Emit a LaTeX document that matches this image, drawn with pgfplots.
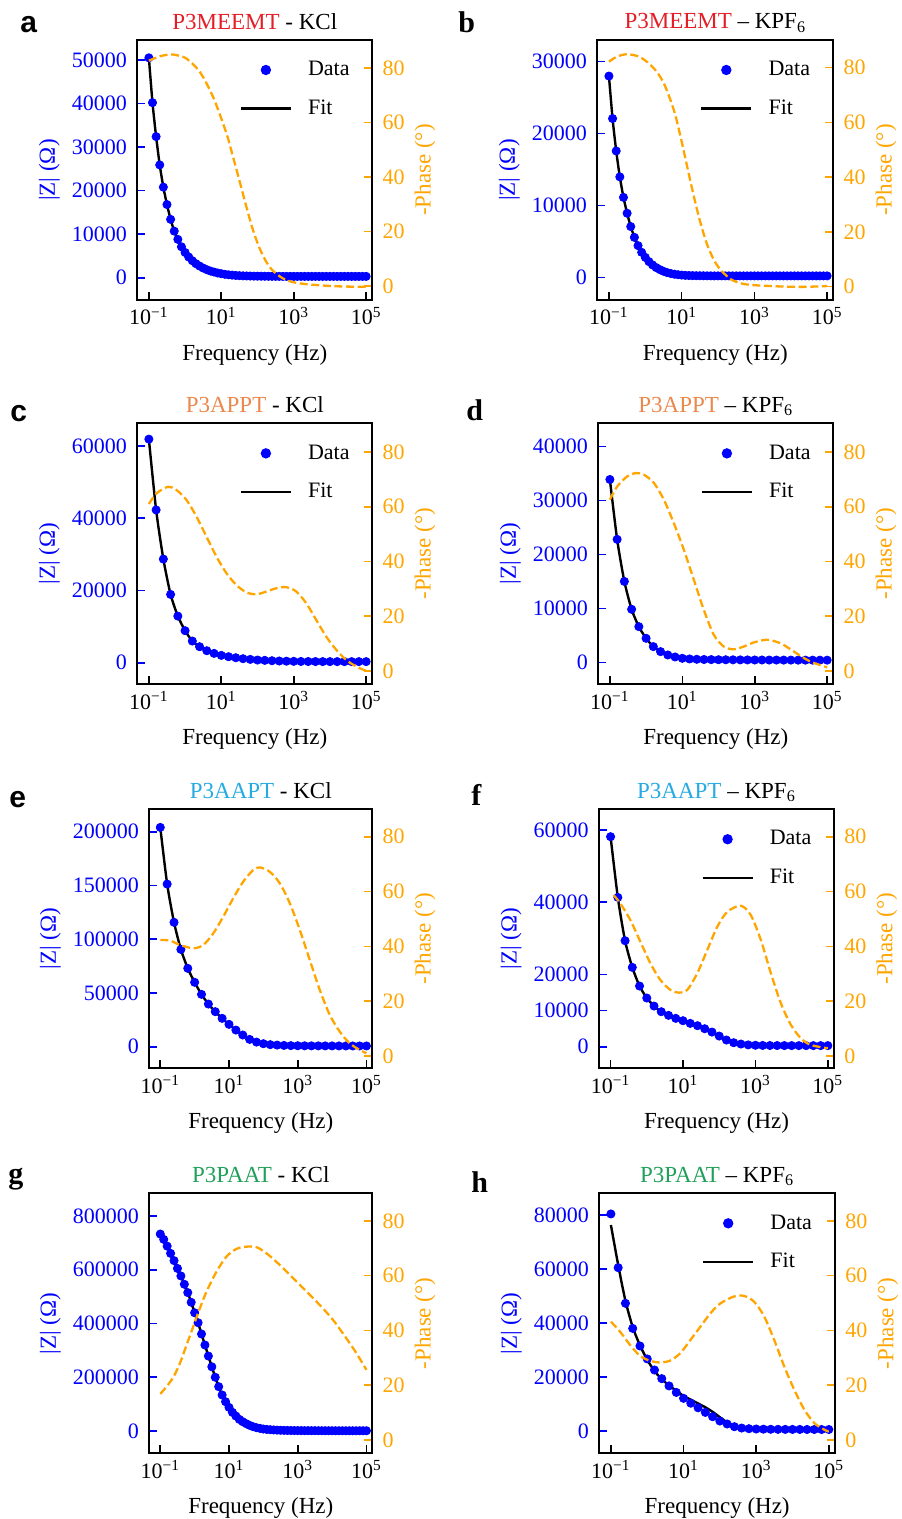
\documentclass[border=0pt]{standalone}
\usepackage{fontspec}
\setmainfont{Liberation Serif}
\newfontfamily\lsans{Liberation Sans}
\usepackage{pgfplots}
\usepackage{pgfplotstable}
\pgfplotsset{compat=1.18}
\definecolor{zblue}{RGB}{0,0,255}
\definecolor{phor}{RGB}{255,165,0}
\definecolor{cred}{RGB}{228,30,38}
\definecolor{corg}{RGB}{233,137,78}
\definecolor{ccyan}{RGB}{38,170,225}
\definecolor{cgrn}{RGB}{32,160,90}
\tikzset{letter/.style={anchor=base west, inner sep=0pt, font=\fontsize{15}{18}\selectfont\bfseries}}
\pgfplotsset{
  eisbase/.style={scale only axis, anchor=south west,
    xmin=0.0479, xmax=148000, tick align=inside, major tick length=4pt,
    xminorticks=false, yminorticks=false,
    tick label style={font=\fontsize{11}{13}\selectfont},
    label style={font=\fontsize{11.5}{13}\selectfont},
    scaled y ticks=false,
    yticklabel style={/pgf/number format/fixed, /pgf/number format/1000 sep={}, /pgf/number format/assume math mode=true, inner sep=0pt},
  },
  zax/.style={eisbase,
    axis line style={line width=1pt, black},
    xtick={0.1,10,1000,100000},
    xticklabels={10\textsuperscript{−1},10\textsuperscript{1},10\textsuperscript{3},10\textsuperscript{5}},
    xtick pos=left, ytick pos=left,
    xtick style={black, line width=0.8pt},
    ytick style={zblue, line width=0.8pt},
    xticklabel style={anchor=base, yshift=-12.5pt},
    yticklabel style={text=zblue, xshift=-5pt},
    xlabel={Frequency (Hz)},
    every axis x label/.style={at={(axis description cs:0.5,0)}, anchor=base, yshift=-30pt, font=\fontsize{11.5}{13}\selectfont},
    ylabel={|Z| (Ω)},
    ylabel style={text=zblue, at={(ticklabel cs:0.5,2.5pt)}},
    every axis title/.style={at={(axis description cs:0.5,1)}, anchor=base, yshift=5.5pt, font=\fontsize{11.5}{13}\selectfont},
    legend cell align=left,
    legend style={at={(0.434,0.935)}, anchor=north west, draw=none, fill=none, inner sep=0pt, font=\fontsize{11}{13}\selectfont, row sep=6.5pt,
      /tikz/every odd column/.append style={column sep=6pt}},
  },
  pax/.style={eisbase,
    axis x line=none, axis y line*=right,
    axis line style={line width=1pt, black},
    ytick={0,20,40,60,80},
    ytick style={phor, line width=0.8pt},
    yticklabel style={text=phor, xshift=5pt},
    ylabel={-Phase (°)},
    ylabel style={text=phor, at={(ticklabel cs:0.5,1.5pt)}},
  },
  datap/.style={only marks, mark=*, mark size=2.05pt, color=zblue, mark options={fill=zblue, draw=zblue},
     legend image code/.code={\path[draw=none, fill=none] (0pt,0pt) -- (25pt,0pt); \fill[zblue, draw=none] (12.5pt,0pt) circle (2.6pt);}},
  fitp/.style={black, line width=1.2pt, no marks, smooth, tension=0.4,
     legend image code/.code={\draw[black, line width=1.2pt] (0pt,0pt) -- (25pt,0pt);}},
  php/.style={color=phor, line width=1.15pt, dash pattern=on 4pt off 1.8pt, smooth, no marks},
}
\begin{document}
% ---------------- data tables ----------------
\pgfplotstableread{
f z
0.1 50500
0.1259 40200
0.1585 32400
0.1995 25900
0.2512 20800
0.3162 16800
0.3981 13400
0.5012 10700
0.631 8800
0.7943 7100
1 5800
1.259 4750
1.585 3900
1.995 3220
2.512 2680
3.162 2220
3.981 1840
5.012 1530
6.31 1300
7.943 1080
10 920
12.59 780
15.85 670
19.95 590
25.12 520
31.62 470
39.81 430
50.12 400
63.1 380
79.43 360
100 350
125.9 340
158.5 330
199.5 320
251.2 315
316.2 310
398.1 305
501.2 300
631 300
794.3 300
1000 300
1259 300
1585 300
1995 300
2512 300
3162 300
3981 300
5012 300
6310 300
7943 300
10000 300
12590 300
15850 300
19950 300
25120 300
31620 300
39810 300
50120 300
63100 300
79430 300
100000 300
}\tabA
\pgfplotstableread{
f p
0.1 82.6
0.2 84.2
0.379 84.9
0.6 84.6
1.09 83.4
2.55 78.5
5.94 69.3
13.9 55.9
21.1 47.3
32.3 38.2
49.3 29.0
75.3 20.4
115 13.7
175 8.8
268 5.5
506 2.7
955 1.35
2225 0.6
5190 0.2
12100 -0.1
34800 -0.3
100000 -0.3
}\phA
\pgfplotstableread{
f z
0.1 28000
0.1259 22100
0.1585 17600
0.1995 14000
0.2512 11150
0.3162 8950
0.3981 7100
0.5012 5600
0.631 4450
0.7943 3520
1 2820
1.259 2230
1.585 1770
1.995 1400
2.512 1120
3.162 890
3.981 710
5.012 580
6.31 480
7.943 410
10 360
12.59 320
15.85 300
19.95 285
25.12 275
31.62 270
39.81 265
50.12 260
63.1 255
79.43 250
100 250
125.9 250
158.5 250
199.5 250
251.2 250
316.2 250
398.1 250
501.2 250
631 250
794.3 250
1000 250
1259 250
1585 250
1995 250
2512 250
3162 250
3981 250
5012 250
6310 250
7943 250
10000 250
12590 250
15850 250
19950 250
25120 250
31620 250
39810 250
50120 250
63100 250
79430 250
100000 250
}\tabB
\pgfplotstableread{
f p
0.1 82.2
0.166 84.0
0.314 84.9
0.733 83.8
1.71 79.8
3.23 74.3
6.10 64.5
9.31 54.8
14.2 43.8
21.7 32.9
33.2 23.1
50.7 15.2
77.4 9.7
118 6.1
223 2.7
422 1.2
796 0.6
2296 0.25
6620 0
23600 -0.1
100000 0.2
}\phB
\pgfplotstableread{
f z
0.1 61900
0.1585 42300
0.2512 28700
0.3981 18900
0.631 12900
1 8860
1.585 6000
2.512 4430
3.981 3320
6.31 2580
10 2030
15.85 1660
25.12 1380
39.81 1110
63.1 920
100 740
158.5 650
251.2 550
398.1 470
631 420
1000 380
1585 350
2512 330
3981 320
6310 310
10000 300
15850 300
25120 300
39810 300
63100 300
100000 300
}\tabC
\pgfplotstableread{
f p
0.1 61.0
0.163 64.9
0.341 67.3
0.579 66.1
1.09 62.5
2.06 56.4
3.89 49.1
7.34 41.8
13.9 35.7
26.1 31.4
49.3 28.7
93.1 28.0
175 29.0
331 30.2
625 30.6
1180 29.0
2225 24.7
4200 18.6
7930 12.5
15000 7.7
28200 4.0
53200 1.6
100000 0
}\phC
\pgfplotstableread{
f z
0.1 33900
0.1585 22800
0.2512 15000
0.3981 9830
0.631 6610
1 4450
1.585 2910
2.512 1980
3.981 1360
6.31 990
10 740
15.85 620
25.12 560
39.81 520
63.1 500
100 480
158.5 470
251.2 460
398.1 450
631 440
1000 430
1585 430
2512 420
3981 420
6310 410
10000 410
15850 400
25120 400
39810 400
63100 400
100000 400
}\tabD
\pgfplotstableread{
f p
0.1 62.6
0.159 67.4
0.301 71.1
0.511 72.3
0.867 71.7
1.64 68.7
3.09 62.6
5.83 54.0
11.0 44.3
20.8 33.3
39.3 22.3
74.1 13.2
140 8.9
264 7.9
499 8.9
942 10.4
2200 11.4
5130 10.1
9680 7.9
18300 5.5
34500 3.4
65200 2.1
100000 1.3
}\phD
\pgfplotstableread{
f z
0.1 204000
0.1585 151300
0.2512 115700
0.3981 90500
0.631 72900
1 59900
1.585 48700
2.512 39700
3.981 32600
6.31 26400
10 20800
15.85 15500
25.12 10900
39.81 6800
63.1 4300
100 2800
158.5 1900
251.2 1500
398.1 1200
631 1000
1000 900
1585 850
2512 800
3981 780
6310 760
10000 740
15850 720
25120 700
39810 700
63100 700
100000 700
}\tabE
\pgfplotstableread{
f p
0.1 42.3
0.191 42.1
0.373 40.5
0.910 39.3
1.78 40.5
3.47 44.7
6.78 50.8
13.2 57.5
25.9 63.6
50.5 67.8
78.9 68.8
154 67.2
301 63.0
588 55.7
1148 46.0
2244 35.0
4380 24.1
8550 15.0
16700 8.9
32600 4.6
63700 2.2
100000 1.0
}\phE
\pgfplotstableread{
f z
0.1 58150
0.1585 41350
0.2512 29350
0.3981 21970
0.631 16800
1 13480
1.585 11260
2.512 9690
3.981 8680
6.31 7850
10 7200
15.85 6460
25.12 5820
39.81 4980
63.1 4060
100 2950
158.5 1850
251.2 1110
398.1 740
631 500
1000 400
1585 350
2512 330
3981 320
6310 310
10000 300
15850 300
25120 300
39810 300
63100 300
100000 300
}\tabF
\pgfplotstableread{
f p
0.121 58.7
0.185 55.7
0.351 49.6
0.665 41.7
1.26 33.8
2.38 27.7
4.51 24.1
7.67 23.1
13.1 24.1
24.8 30.2
46.9 38.7
88.8 47.2
168 52.6
394 54.8
745 51.4
1412 42.3
2673 30.2
5060 19.2
9590 11.3
18200 6.4
34400 4.0
100000 2.8
}\phF
\pgfplotstableread{
f z
0.1 733000
0.1259 713000
0.1585 688000
0.1995 661000
0.2512 634000
0.3162 605000
0.3981 577000
0.5012 546000
0.631 515000
0.7943 479000
1 440000
1.259 403000
1.585 361000
1.995 320000
2.512 279000
3.162 239000
3.981 200000
5.012 165000
6.31 134000
7.943 109000
10 88000
12.59 69500
15.85 55800
19.95 43400
25.12 34700
31.62 27300
39.81 21100
50.12 16100
63.1 12400
79.43 9900
100 7400
125.9 6000
158.5 4900
199.5 4000
251.2 3300
316.2 2800
398.1 2400
501.2 2100
631 1900
794.3 1700
1000 1600
1259 1500
1585 1400
1995 1350
2512 1300
3162 1250
3981 1200
5012 1150
6310 1100
7943 1100
10000 1050
12590 1000
15850 1000
19950 1000
25120 1000
31620 1000
39810 1000
50120 1000
63100 1000
79430 1000
100000 1000
}\tabG
\pgfplotstableread{
f p
0.1 16.8
0.153 19.5
0.239 22.9
0.373 28.0
0.583 34.7
0.910 41.4
1.42 48.1
2.22 54.2
4.34 61.5
8.48 67.0
16.6 69.8
32.3 70.6
63.1 70.4
123 68.2
301 63.9
735 59.1
1794 54.2
4380 49.3
10700 43.8
26100 37.1
50900 31.7
100000 25.6
}\phG
\pgfplotstableread{
f z fit
0.1 80400 76300
0.1585 60500 61500
0.2512 47300 48200
0.3981 38000 38500
0.631 31500 31700
1 26700 26400
1.585 22600 22200
2.512 19400 19200
3.981 16700 16900
6.31 14300 14900
10 12100 13000
15.85 10300 11600
25.12 8600 10200
39.81 6900 8800
63.1 5300 7100
100 3700 5100
158.5 2600 3200
251.2 1600 1900
398.1 1100 1100
631 860 800
1000 740 650
1585 680 600
2512 640 580
3981 620 570
6310 600 560
10000 590 560
15850 580 560
25120 570 560
39810 560 560
63100 560 560
100000 560 560
}\tabH
\pgfplotstableread{
f p
0.1 43.2
0.177 39.6
0.336 34.7
0.635 30.7
1.20 28.9
2.28 28.3
4.30 29.0
8.15 31.7
15.4 36.5
29.2 41.4
55.2 46.3
104 49.9
245 52.4
463 52.6
877 50.5
1660 45.1
3140 36.5
5940 26.8
11200 18.3
21300 11.0
40300 6.1
76200 3.7
100000 3.0
}\phH
\begin{tikzpicture}
\path[use as bounding box] (0pt,0pt) rectangle (450.5pt,-759.5pt);
% ===== a =====
\begin{axis}[xmode=log, zax, at={(68.65pt,-150pt)}, width=117.5pt, height=130pt,
  ymin=-5120, ymax=54590, ytick={0,10000,20000,30000,40000,50000},
  title={\textcolor{cred}{P3MEEMT} - KCl}]
\addplot[datap] table[x=f,y=z]{\tabA};
\addlegendentry{Data}
\addplot[fitp] table[x=f,y=z]{\tabA};
\addlegendentry{Fit}
\end{axis}
\begin{axis}[xmode=log, pax, at={(68.65pt,-150pt)}, width=117.5pt, height=130pt, ymin=-5.2, ymax=90.2]
\addplot[php] table[x=f,y=p]{\phA};
\end{axis}
% ===== b =====
\begin{axis}[xmode=log, zax, at={(298.65pt,-150pt)}, width=118pt, height=130pt,
  ymin=-3100, ymax=33010, ytick={0,10000,20000,30000},
  title={\textcolor{cred}{P3MEEMT} – KPF\textsubscript{6}}]
\addplot[datap] table[x=f,y=z]{\tabB};
\addlegendentry{Data}
\addplot[fitp] table[x=f,y=z]{\tabB};
\addlegendentry{Fit}
\end{axis}
\begin{axis}[xmode=log, pax, at={(298.65pt,-150pt)}, width=118pt, height=130pt, ymin=-4.9, ymax=90.1]
\addplot[php] table[x=f,y=p]{\phB};
\end{axis}
% ===== c =====
\begin{axis}[xmode=log, zax, at={(68.65pt,-342.15pt)}, width=117.5pt, height=130.5pt,
  ymin=-5980, ymax=66285, ytick={0,20000,40000,60000},
  title={\textcolor{corg}{P3APPT} - KCl}]
\addplot[datap] table[x=f,y=z]{\tabC};
\addlegendentry{Data}
\addplot[fitp] table[x=f,y=z]{\tabC};
\addlegendentry{Fit}
\end{axis}
\begin{axis}[xmode=log, pax, at={(68.65pt,-342.15pt)}, width=117.5pt, height=130.5pt, ymin=-4.9, ymax=90.5]
\addplot[php] table[x=f,y=p]{\phC};
\end{axis}
% ===== d =====
\begin{axis}[xmode=log, zax, at={(299.15pt,-342.15pt)}, width=117.5pt, height=130.5pt,
  ymin=-4080, ymax=44320, ytick={0,10000,20000,30000,40000},
  title={\textcolor{corg}{P3APPT} – KPF\textsubscript{6}}]
\addplot[datap] table[x=f,y=z]{\tabD};
\addlegendentry{Data}
\addplot[fitp] table[x=f,y=z]{\tabD};
\addlegendentry{Fit}
\end{axis}
\begin{axis}[xmode=log, pax, at={(299.15pt,-342.15pt)}, width=117.5pt, height=130.5pt, ymin=-4.9, ymax=90.5]
\addplot[php] table[x=f,y=p]{\phD};
\end{axis}
% ===== e =====
\begin{axis}[xmode=log, zax, at={(74.65pt,-534.15pt)}, width=111.5pt, height=129.5pt,
  ymin=-20090, ymax=220840, ytick={0,50000,100000,150000,200000},
  title={\textcolor{ccyan}{P3AAPT} - KCl}]
\addplot[datap] table[x=f,y=z]{\tabE};
\addplot[fitp] table[x=f,y=z]{\tabE};
\end{axis}
\begin{axis}[xmode=log, pax, at={(74.65pt,-534.15pt)}, width=111.5pt, height=129.5pt, ymin=-4.5, ymax=90.0]
\addplot[php] table[x=f,y=p]{\phE};
\end{axis}
% ===== f =====
\begin{axis}[xmode=log, zax, at={(299.5pt,-534.15pt)}, width=117.5pt, height=129.5pt,
  ymin=-5980, ymax=65730, ytick={0,10000,20000,40000,60000},
  title={\textcolor{ccyan}{P3AAPT} – KPF\textsubscript{6}}]
\addplot[datap] table[x=f,y=z]{\tabF};
\addlegendentry{Data}
\addplot[fitp] table[x=f,y=z]{\tabF};
\addlegendentry{Fit}
\end{axis}
\begin{axis}[xmode=log, pax, at={(299.5pt,-534.15pt)}, width=117.5pt, height=129.5pt, ymin=-4.5, ymax=90.0]
\addplot[php] table[x=f,y=p]{\phF};
\end{axis}
% ===== g =====
\begin{axis}[xmode=log, zax, at={(74.65pt,-726.65pt)}, width=111.5pt, height=130pt,
  ymin=-82980, ymax=884470, ytick={0,200000,400000,600000,800000},
  title={\textcolor{cgrn}{P3PAAT} - KCl}]
\addplot[datap] table[x=f,y=z]{\tabG};
\addplot[fitp] table[x=f,y=z]{\tabG};
\end{axis}
\begin{axis}[xmode=log, pax, at={(74.65pt,-726.65pt)}, width=111.5pt, height=130pt, ymin=-4.9, ymax=90.1]
\addplot[php] table[x=f,y=p]{\phG};
\end{axis}
% ===== h =====
\begin{axis}[xmode=log, zax, at={(299.65pt,-726.65pt)}, width=117.85pt, height=130pt,
  ymin=-8260, ymax=88040, ytick={0,20000,40000,60000,80000},
  title={\textcolor{cgrn}{P3PAAT} – KPF\textsubscript{6}}]
\addplot[datap] table[x=f,y=z]{\tabH};
\addlegendentry{Data}
\addplot[fitp] table[x=f,y=fit]{\tabH};
\addlegendentry{Fit}
\end{axis}
\begin{axis}[xmode=log, pax, at={(299.65pt,-726.65pt)}, width=117.85pt, height=130pt, ymin=-4.9, ymax=90.1]
\addplot[php] table[x=f,y=p]{\phH};
\end{axis}
% ===== panel letters =====
\node[letter, font=\lsans\fontsize{15}{18}\selectfont\bfseries] at (10pt,-16.5pt) {a};
\node[letter] at (229pt,-16.5pt) {b};
\node[letter, font=\lsans\fontsize{15}{18}\selectfont\bfseries] at (5pt,-211pt) {c};
\node[letter] at (233pt,-210pt) {d};
\node[letter, font=\lsans\fontsize{15}{18}\selectfont\bfseries] at (4.5pt,-403.5pt) {e};
\node[letter] at (235.5pt,-402.5pt) {f};
\node[letter] at (4pt,-591.5pt) {g};
\node[letter] at (235.5pt,-596pt) {h};
\end{tikzpicture}
\end{document}
